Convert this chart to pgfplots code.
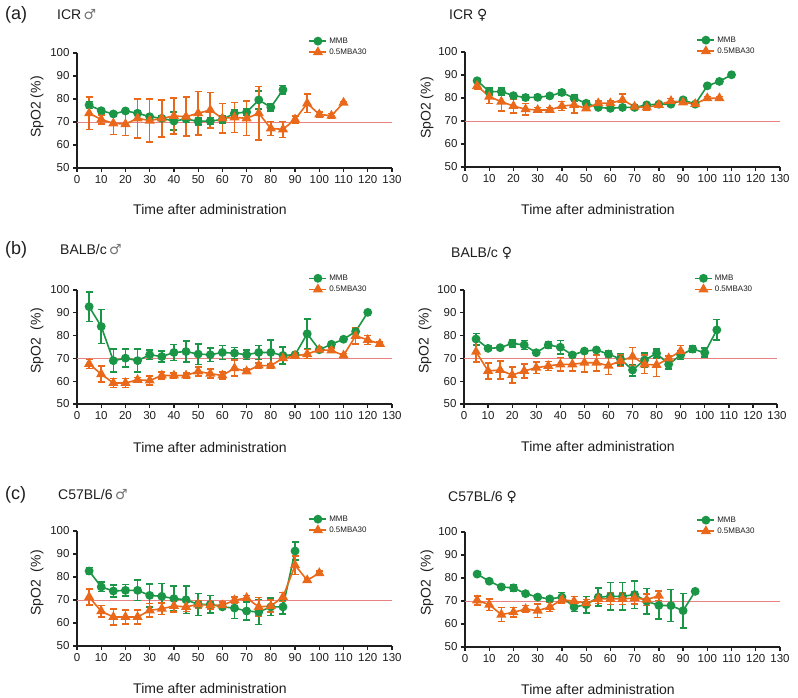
\documentclass[border=0pt]{standalone}
\usepackage{pgfplots}
\pgfplotsset{compat=1.18}
\usepackage{fontspec}
\setmainfont{Liberation Sans}
\newfontfamily\symfont{DejaVu Sans}
\definecolor{cgreen}{RGB}{26,150,70}
\definecolor{corange}{RGB}{234,104,26}
\definecolor{cref}{RGB}{232,130,130}
\definecolor{txt}{RGB}{30,30,30}
\pgfplotsset{
 myax/.style={
  scale only axis, width=315pt, height=115pt,
  xmin=0, xmax=130, ymin=50, ymax=100,
  xtick={0,10,...,130}, ytick={50,60,...,100},
  axis x line=bottom, axis y line=left,
  axis line style={-, line width=1.5pt, txt},
  tick align=outside, major tick length=4pt,
  tick style={line width=1.3pt, txt},
  tick label style={font=\fontsize{11.5}{12}\selectfont, text=txt},
  /pgf/number format/assume math mode=true,
  clip=false,
  legend style={draw=none, fill=none, at={(0.725,1.17)}, anchor=north west,
    font=\fontsize{8}{9}\selectfont, text=txt, row sep=0pt},
  legend cell align=left,
 },
 refline/.style={cref, line width=0.8pt, forget plot},
 mmb/.style={cgreen, line width=1.6pt, mark=*, mark size=3.6pt, mark options={solid},
   error bars/.cd, y dir=both, y explicit,
   error bar style={line width=1.6pt}, error mark options={rotate=90, mark size=3.5pt, line width=1.6pt}},
 mba/.style={corange, line width=1.6pt, mark=triangle*, mark size=4.3pt, mark options={solid},
   error bars/.cd, y dir=both, y explicit,
   error bar style={line width=1.6pt}, error mark options={rotate=90, mark size=3.5pt, line width=1.6pt}},
}
\newcommand{\ttl}[1]{\fontsize{14}{16}\selectfont #1}
\newcommand{\xl}{\fontsize{14}{16}\selectfont Time after administration}
\begin{document}
\begin{tikzpicture}[x=1pt,y=1pt]
\path[use as bounding box] (0,0) rectangle (798,698);
% ---------------- (a) left
\begin{axis}[myax, at={(77pt,530pt)}, anchor=south west]
\addplot[refline] coordinates {(0,70) (130,70)};
\addplot[mmb] coordinates {
(5,77.4)+-(0,1.5) (10,74.9)+-(0,1) (15,73.5)+-(0,1) (20,74.8)+-(0,1) (25,73.8)+-(0,1)
(30,72.3)+-(0,1) (35,71.6)+-(0,1) (40,70.4)+-(0,4) (45,71.3)+-(0,1.5) (50,70.3)+-(0,1.5)
(55,70.4)+-(0,1.5) (60,71.1)+-(0,1.5) (65,73.8)+-(0,1.5) (70,74.3)+-(0,1.5) (75,79.6)+-(0,4)
(80,76.4)+-(0,1.5) (85,84.0)+-(0,1.8)};
\addplot[mba] coordinates {
(5,73.8)+-(0,7) (10,71.1)+-(0,2) (15,69.4)+-(0,4.8) (20,69.1)+-(0,5) (25,71.6)+-(0,8.5)
(30,70.6)+-(0,9.3) (35,71.6)+-(0,8) (40,72.6)+-(0,7.8) (45,72.3)+-(0,8.5) (50,73.8)+-(0,9.5)
(55,75.2)+-(0,7.7) (60,71.6)+-(0,6.5) (65,72.0)+-(0,6.5) (70,71.6)+-(0,7.5) (75,73.8)+-(0,11.7)
(80,67.2)+-(0,3) (85,66.8)+-(0,3.5) (90,71.1)+-(0,1.5) (95,78.1)+-(0,4) (100,73.3)+-(0,1)
(105,72.7)+-(0,1) (110,78.4)+-(0,0.5)};
\legend{MMB, 0.5MBA30}
\end{axis}
% ---------------- (a) right
\begin{axis}[myax, at={(465pt,531pt)}, anchor=south west]
\addplot[refline] coordinates {(0,70) (130,70)};
\addplot[mmb] coordinates {
(5,87.5)+-(0,1) (10,82.8)+-(0,1.5) (15,82.8)+-(0,1.5) (20,81.0)+-(0,1) (25,80.2)+-(0,1)
(30,80.3)+-(0,1) (35,80.9)+-(0,1) (40,82.4)+-(0,1) (45,79.9)+-(0,1.5) (50,77.7)+-(0,1)
(55,75.9)+-(0,0.8) (60,75.5)+-(0,0.8) (65,75.9)+-(0,0.8) (70,75.9)+-(0,0.8) (75,77.0)+-(0,0.8)
(80,77.3)+-(0,0.8) (85,77.3)+-(0,0.8) (90,79.2)+-(0,0.8) (95,77.3)+-(0,0.8) (100,85.3)+-(0,0.8)
(105,87.2)+-(0,0.8) (110,90.1)+-(0,0.5)};
\addplot[mba] coordinates {
(5,85.3)+-(0,1.5) (10,80.6)+-(0,3) (15,78.4)+-(0,4) (20,76.5)+-(0,3) (25,75.1)+-(0,2.5)
(30,74.8)+-(0,1) (35,74.8)+-(0,1) (40,76.5)+-(0,2) (45,77.0)+-(0,3.5) (50,75.5)+-(0,1)
(55,77.7)+-(0,1) (60,77.7)+-(0,1) (65,79.2)+-(0,2.5) (70,76.2)+-(0,1) (75,75.9)+-(0,1)
(80,77.0)+-(0,1) (85,78.7)+-(0,1) (90,78.1)+-(0,1) (95,77.4)+-(0,0.8) (100,79.9)+-(0,0.8)
(105,79.9)+-(0,0.8)};
\legend{MMB, 0.5MBA30}
\end{axis}
% ---------------- (b) left
\begin{axis}[myax, height=114pt, at={(77pt,294pt)}, anchor=south west]
\addplot[refline] coordinates {(0,70) (130,70)};
\addplot[mmb] coordinates {
(5,92.7)+-(0,6.5) (10,84.0)+-(0,7.4) (15,69.0)+-(0,5) (20,70.1)+-(0,4) (25,69.0)+-(0,5)
(30,71.6)+-(0,2) (35,70.8)+-(0,2.5) (40,72.6)+-(0,3.5) (45,73.0)+-(0,4.5) (50,71.9)+-(0,4.5)
(55,71.6)+-(0,3) (60,72.6)+-(0,3) (65,72.3)+-(0,2.5) (70,71.6)+-(0,2) (75,72.6)+-(0,3)
(80,72.6)+-(0,5.5) (85,71.3)+-(0,3.8) (90,71.6)+-(0,1) (95,80.8)+-(0,6.5) (100,73.8)+-(0,1)
(105,76.2)+-(0,0.8) (110,78.4)+-(0,0.8) (115,81.8)+-(0,0.8) (120,90.2)+-(0,0.5)};
\addplot[mba] coordinates {
(5,67.6)+-(0,2) (10,63.1)+-(0,3.5) (15,59.2)+-(0,2) (20,59.2)+-(0,2) (25,60.6)+-(0,1)
(30,60.3)+-(0,2) (35,62.5)+-(0,1.5) (40,62.5)+-(0,1) (45,62.5)+-(0,1) (50,64.3)+-(0,2)
(55,63.3)+-(0,2) (60,62.5)+-(0,1.5) (65,65.7)+-(0,3.5) (70,64.3)+-(0,1) (75,66.9)+-(0,1)
(80,66.8)+-(0,1) (85,70.1)+-(0,1) (90,71.1)+-(0,1) (95,71.9)+-(0,2) (100,73.8)+-(0,1)
(105,73.5)+-(0,1) (110,71.3)+-(0,0.8) (115,79.9)+-(0,3.5) (120,78.1)+-(0,2) (125,76.4)+-(0,0.8)};
\legend{MMB, 0.5MBA30}
\end{axis}
% ---------------- (b) right
\begin{axis}[myax, width=313pt, height=114pt, at={(464pt,294pt)}, anchor=south west]
\addplot[refline] coordinates {(0,70) (130,70)};
\addplot[mmb] coordinates {
(5,78.5)+-(0,2.5) (10,74.4)+-(0,1) (15,74.7)+-(0,0.5) (20,76.6)+-(0,1.5) (25,75.9)+-(0,2)
(30,72.5)+-(0,0.5) (35,75.9)+-(0,1.5) (40,74.9)+-(0,3) (45,71.5)+-(0,1) (50,73.2)+-(0,0.5)
(55,73.7)+-(0,0.5) (60,71.9)+-(0,1.5) (65,69.7)+-(0,2.5) (70,64.9)+-(0,2.5) (75,69.3)+-(0,3)
(80,72.2)+-(0,2) (85,67.4)+-(0,2) (90,71.5)+-(0,2) (95,74.1)+-(0,1.3) (100,72.5)+-(0,2)
(105,82.5)+-(0,4.5)};
\addplot[mba] coordinates {
(5,72.9)+-(0,4.5) (10,64.5)+-(0,3.5) (15,64.9)+-(0,4) (20,62.7)+-(0,3.5) (25,64.5)+-(0,3)
(30,65.9)+-(0,2.5) (35,66.7)+-(0,2) (40,67.4)+-(0,3) (45,67.4)+-(0,3) (50,68.1)+-(0,4)
(55,68.1)+-(0,3.5) (60,66.8)+-(0,3.8) (65,68.9)+-(0,2.5) (70,70.8)+-(0,4) (75,67.4)+-(0,4)
(80,67.1)+-(0,5) (85,70.0)+-(0,1) (90,73.2)+-(0,2.5)};
\legend{MMB, 0.5MBA30}
\end{axis}
% ---------------- (c) left
\begin{axis}[myax, at={(77pt,52pt)}, anchor=south west]
\addplot[refline] coordinates {(0,70) (130,70)};
\addplot[mmb] coordinates {
(5,82.6)+-(0,1.5) (10,75.7)+-(0,2) (15,73.9)+-(0,2.5) (20,74.2)+-(0,2.5) (25,74.2)+-(0,4.5)
(30,72.0)+-(0,5) (35,71.6)+-(0,5.5) (40,70.6)+-(0,5.5) (45,70.1)+-(0,6) (50,68.1)+-(0,4.8)
(55,68.1)+-(0,3.8) (60,67.0)+-(0,1) (65,66.5)+-(0,4.5) (70,65.2)+-(0,4) (75,64.8)+-(0,5.5)
(80,67.0)+-(0,3.8) (85,67.0)+-(0,3) (90,91.3)+-(0,4)};
\addplot[mba] coordinates {
(5,71.3)+-(0,3.5) (10,65.1)+-(0,2.5) (15,62.6)+-(0,3.5) (20,62.6)+-(0,3) (25,62.6)+-(0,3)
(30,65.5)+-(0,3) (35,66.2)+-(0,2.5) (40,67.4)+-(0,2.5) (45,67.0)+-(0,2) (50,68.1)+-(0,1.5)
(55,67.7)+-(0,1.5) (60,67.7)+-(0,1.5) (65,69.9)+-(0,1.5) (70,70.9)+-(0,1) (75,67.0)+-(0,4)
(80,67.4)+-(0,2.5) (85,71.3)+-(0,2) (90,85.1)+-(0,4) (95,78.6)+-(0,0.8) (100,81.7)+-(0,0.8)};
\legend{MMB, 0.5MBA30}
\end{axis}
% ---------------- (c) right
\begin{axis}[myax, at={(465pt,51pt)}, anchor=south west]
\addplot[refline] coordinates {(0,70) (130,70)};
\addplot[mmb] coordinates {
(5,81.7)+-(0,0.8) (10,78.6)+-(0,0.8) (15,76.1)+-(0,1) (20,75.7)+-(0,1.5) (25,73.2)+-(0,0.8)
(30,71.7)+-(0,0.8) (35,70.9)+-(0,0.8) (40,71.7)+-(0,2) (45,67.4)+-(0,2) (50,68.4)+-(0,3.5)
(55,71.7)+-(0,4) (60,72.0)+-(0,6) (65,72.0)+-(0,6) (70,72.8)+-(0,6) (75,69.9)+-(0,5.5)
(80,68.1)+-(0,6) (85,68.0)+-(0,7) (90,65.8)+-(0,7.5) (95,74.2)+-(0,0.8)};
\addplot[mba] coordinates {
(5,70.3)+-(0,2) (10,68.4)+-(0,2.5) (15,64.1)+-(0,3) (20,65.1)+-(0,2) (25,66.5)+-(0,1.5)
(30,65.8)+-(0,3) (35,67.4)+-(0,2) (40,70.6)+-(0,1.5) (45,69.9)+-(0,2) (50,69.1)+-(0,1.5)
(55,70.9)+-(0,2) (60,70.9)+-(0,2.5) (65,70.9)+-(0,2.5) (70,71.3)+-(0,2.5) (75,70.6)+-(0,2.5)
(80,72.3)+-(0,2)};
\legend{MMB, 0.5MBA30}
\end{axis}
% ---------------- texts
\begin{scope}[every node/.style={text=txt, inner sep=0pt}]
\node[anchor=west, font=\fontsize{18}{20}\selectfont] at (5,683) {(a)};
\node[anchor=west] at (57,683) {\ttl{ICR\,{\symfont\color{black!55}♂}}};
\node[anchor=west] at (449,683) {\ttl{ICR {\symfont ♀}}};
\node[anchor=west, font=\fontsize{18}{20}\selectfont] at (5,448) {(b)};
\node[anchor=west] at (60,448) {\ttl{BALB/c\,{\symfont\color{black!55}♂}}};
\node[anchor=west] at (451,445) {\ttl{BALB/c {\symfont ♀}}};
\node[anchor=west, font=\fontsize{18}{20}\selectfont] at (5,203) {(c)};
\node[anchor=west] at (58,203) {\ttl{C57BL/6\,{\symfont\color{black!55}♂}}};
\node[anchor=west] at (448,201) {\ttl{C57BL/6 {\symfont ♀}}};
\node at (210,488) {\xl};
\node at (598,488) {\xl};
\node at (210,250) {\xl};
\node at (598,251) {\xl};
\node at (210,10) {\xl};
\node at (598,9) {\xl};
\node[rotate=90] at (37,591) {\ttl{SpO2 (\%)}};
\node[rotate=90] at (427,590) {\ttl{SpO2 (\%)}};
\node[rotate=90] at (37,357) {\ttl{SpO2\ \ (\%)}};
\node[rotate=90] at (425,357) {\ttl{SpO2\ \ (\%)}};
\node[rotate=90] at (37,115) {\ttl{SpO2\ \ (\%)}};
\node[rotate=90] at (427,115) {\ttl{SpO2\ \ (\%)}};
\end{scope}
\end{tikzpicture}
\end{document}
